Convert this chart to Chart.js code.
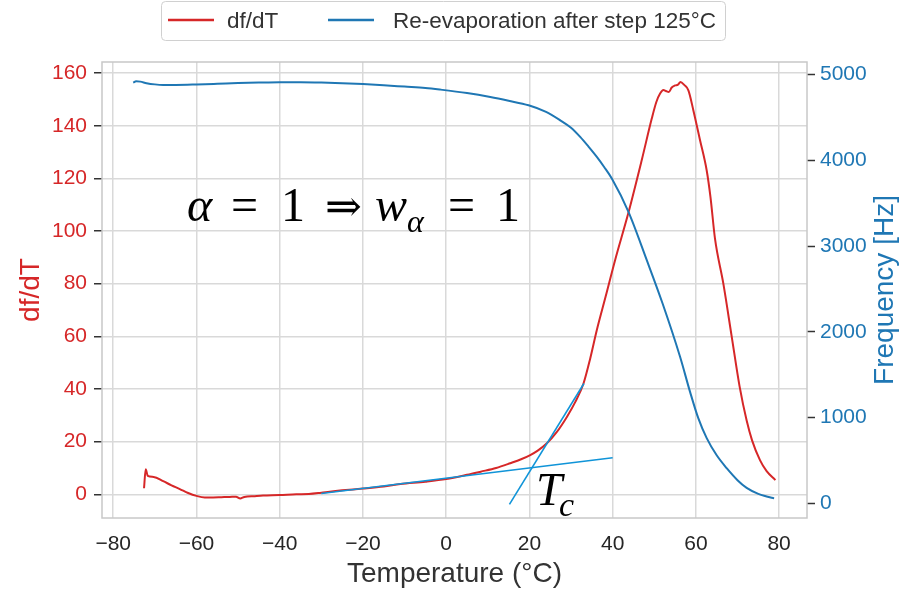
<!DOCTYPE html>
<html>
<head>
<meta charset="utf-8">
<script src="https://cdn.jsdelivr.net/npm/chart.js@4.4.1/dist/chart.umd.min.js"></script>
<style>
  html, body { margin: 0; padding: 0; background: #fff; }
  canvas { display: block; }
</style>
</head>
<body>
<canvas id="myChart" width="908" height="589"></canvas>
<script>
// df/dT vs temperature (left axis)
const dfdtTemp = [-72.6, -72.2, -71.7, -70.3, -68, -66, -64, -62, -60, -58, -56, -54, -52, -50.5, -49.5, -48.5,
  -46, -44, -40, -36, -33, -30, -28, -25, -20, -15, -11, -5, 0, 5, 8.3, 12, 15.4, 18, 20.2, 22, 24.2, 26.5,
  29, 31, 33, 34.6, 36.2, 38.3, 40.6, 43.8, 47, 49.4, 50.5, 51.4, 52.2, 52.8, 53.5, 54.2, 55, 55.7, 56.3,
  57.2, 58.2, 59.4, 61, 62.6, 63.5, 64.6, 66.6, 68.6, 70.5, 72.2, 73.5, 75.4, 77, 79.1];
const dfdtValue = [2.3, 9.5, 7.0, 6.6, 5.0, 3.4, 2.0, 0.5, -0.6, -1.2, -1.2, -1.1, -1.0, -0.9, -1.6, -1.0,
  -0.7, -0.5, -0.3, 0, 0.1, 0.6, 1.0, 1.5, 2.2, 3.0, 3.9, 4.8, 5.8, 7.4, 8.6, 10.0, 11.8, 13.3, 14.9, 16.6, 19.4, 23.5,
  29.4, 35, 42.1, 51.5, 62.4, 75, 89, 107, 127, 142.7, 149, 152.2, 153.6, 153.2, 152.8, 154.5, 155.3, 155.6, 156.6,
  155.5, 153.4, 145.8, 134.5, 123, 113, 97, 80, 60, 41, 28, 20.5, 13, 8.8, 5.4];

// frequency during re-evaporation (right axis)
const freqTemp = [-75.2, -74.5, -73.5, -72, -70, -68, -65, -60, -55, -50, -45, -40, -35, -30, -25, -20, -15,
  -10, -5, -1.4, 5, 10.6, 15, 19.8, 24, 27.4, 30, 32.2, 34.2, 36.2, 38, 39.8, 43.8, 48.2, 52, 56.2, 58.6,
  60.6, 62.6, 65, 67.4, 70, 72.2, 75, 77, 78.8];
const freqValue = [4907, 4922, 4918, 4900, 4886, 4880, 4880, 4885, 4893, 4902, 4908, 4912, 4912, 4908, 4900, 4890, 4876,
  4860, 4844, 4825, 4785, 4739, 4695, 4642, 4565, 4467, 4380, 4273, 4160, 4040, 3920, 3788, 3399, 2836, 2330, 1709, 1300,
  990, 760, 560, 410, 270, 180, 110, 80, 58];

// tangents for Tc
const tangentFlatTemp = [-30, 40];
const tangentFlatValue = [0.3, 13.9];
const tangentSteepTemp = [15.2, 33.1];
const tangentSteepValue = [-3.8, 42.1];

const xTickValues = [-80, -60, -40, -20, 0, 20, 40, 60, 80];
const leftTickValues = [0, 20, 40, 60, 80, 100, 120, 140, 160];
const rightTickValues = [0, 1000, 2000, 3000, 4000, 5000];

const RED = '#d62728';
const BLUE = '#1f77b4';
const TANGENT = '#1094d8';
const SANS = "'Liberation Sans', Arial, sans-serif";
const SERIF = "'Liberation Serif', 'DejaVu Serif', serif";

function pts(xs, ys) {
  return xs.map((x, i) => ({ x: x, y: ys[i] }));
}
function fixTicks(values) {
  return function (scale) { scale.ticks = values.map(v => ({ value: v })); };
}

// frame, legend, axis titles and the math notes
const extras = {
  id: 'extras',
  beforeDatasetsDraw(chart) {
    const { ctx, chartArea: a } = chart;
    ctx.save();
    ctx.strokeStyle = '#c8c8c8';
    ctx.lineWidth = 1.5;
    ctx.strokeRect(a.left, a.top, a.right - a.left, a.bottom - a.top);
    ctx.restore();
  },
  afterDraw(chart) {
    const ctx = chart.ctx;
    const a = chart.chartArea;
    ctx.save();

    // legend
    ctx.fillStyle = '#fff';
    ctx.strokeStyle = '#d0d0d0';
    ctx.lineWidth = 1;
    ctx.beginPath();
    ctx.roundRect(161.5, 1.5, 564, 39, 4);
    ctx.fill();
    ctx.stroke();
    const items = [
      { ds: chart.data.datasets[0], x0: 168, x1: 214, tx: 227 },
      { ds: chart.data.datasets[1], x0: 328, x1: 374, tx: 393 }
    ];
    ctx.font = '22.5px ' + SANS;
    ctx.textBaseline = 'alphabetic';
    ctx.textAlign = 'left';
    items.forEach(it => {
      ctx.strokeStyle = it.ds.borderColor;
      ctx.lineWidth = 2.5;
      ctx.beginPath();
      ctx.moveTo(it.x0, 20);
      ctx.lineTo(it.x1, 20);
      ctx.stroke();
      ctx.fillStyle = '#333';
      ctx.fillText(it.ds.label, it.tx, 28);
    });

    // axis titles
    ctx.font = '28px ' + SANS;
    ctx.fillStyle = '#333';
    ctx.textAlign = 'center';
    ctx.fillText('Temperature (°C)', (a.left + a.right) / 2, 582);

    ctx.save();
    ctx.translate(39, (a.top + a.bottom) / 2);
    ctx.rotate(-Math.PI / 2);
    ctx.fillStyle = RED;
    ctx.fillText('df/dT', 0, 0);
    ctx.restore();

    ctx.save();
    ctx.translate(893, (a.top + a.bottom) / 2);
    ctx.rotate(-Math.PI / 2);
    ctx.fillStyle = BLUE;
    ctx.fillText('Frequency [Hz]', 0, 0);
    ctx.restore();

    // math notes
    ctx.fillStyle = '#000';
    ctx.textAlign = 'left';
    const put = (t, x, y, size, italic) => {
      ctx.font = (italic ? 'italic ' : '') + size + 'px ' + SERIF;
      ctx.fillText(t, x, y);
    };
    put('\u03B1', 187, 221, 48, true);
    put('=', 231, 221, 48, false);
    put('1', 281, 221, 48, false);
    put('\u21D2', 325, 221, 44, false);
    put('w', 375, 221, 48, true);
    put('\u03B1', 407, 232, 32, true);
    put('=', 448, 221, 48, false);
    put('1', 496, 221, 48, false);

    put('T', 536, 505, 47, true);
    put('c', 559, 516, 34, true);

    ctx.restore();
  }
};

const ctx = document.getElementById('myChart').getContext('2d');
const myChart = new Chart(ctx, {
  type: 'line',
  data: {
    datasets: [
      {
        label: 'df/dT',
        data: pts(dfdtTemp, dfdtValue),
        borderColor: RED,
        borderWidth: 2,
        pointRadius: 0,
        cubicInterpolationMode: 'monotone',
        yAxisID: 'y',
        order: 3
      },
      {
        label: 'Re-evaporation after step 125°C',
        data: pts(freqTemp, freqValue),
        borderColor: BLUE,
        borderWidth: 2,
        pointRadius: 0,
        cubicInterpolationMode: 'monotone',
        yAxisID: 'y1',
        order: 2
      },
      {
        label: 'tangent 1',
        data: pts(tangentFlatTemp, tangentFlatValue),
        borderColor: TANGENT,
        borderWidth: 1.6,
        pointRadius: 0,
        yAxisID: 'y',
        order: 1
      },
      {
        label: 'tangent 2',
        data: pts(tangentSteepTemp, tangentSteepValue),
        borderColor: TANGENT,
        borderWidth: 1.6,
        pointRadius: 0,
        yAxisID: 'y',
        order: 1
      }
    ]
  },
  options: {
    responsive: false,
    animation: false,
    layout: { padding: { top: 62, left: 0, right: 0, bottom: 0 } },
    plugins: {
      legend: { display: false },
      tooltip: { enabled: false }
    },
    scales: {
      x: {
        type: 'linear',
        min: -82.7,
        max: 86.7,
        afterBuildTicks: fixTicks(xTickValues),
        afterFit: s => { s.height = 71; },
        border: { display: false },
        grid: { color: '#d9d9d9', lineWidth: 1.5, drawTicks: false },
        ticks: {
          padding: 14,
          color: '#262626',
          font: { family: SANS, size: 21 },
          callback: v => String(v).replace('-', '\u2212')
        }
      },
      y: {
        position: 'left',
        min: -9,
        max: 164.2,
        afterBuildTicks: fixTicks(leftTickValues),
        afterFit: s => { s.width = 102; },
        border: { display: false },
        grid: { color: '#d9d9d9', lineWidth: 1.5, tickLength: 8, tickColor: '#333', tickWidth: 1.5 },
        ticks: {
          padding: 7,
          color: RED,
          font: { family: SANS, size: 21 },
          callback: v => String(v)
        }
      },
      y1: {
        position: 'right',
        min: -171,
        max: 5147,
        afterBuildTicks: fixTicks(rightTickValues),
        afterFit: s => { s.width = 101; },
        border: { display: false },
        grid: { drawOnChartArea: false, tickLength: 8, tickColor: '#333', tickWidth: 1.5 },
        ticks: {
          padding: 5,
          color: BLUE,
          font: { family: SANS, size: 21 },
          callback: v => String(v)
        }
      }
    }
  },
  plugins: [extras]
});
</script>
</body>
</html>
